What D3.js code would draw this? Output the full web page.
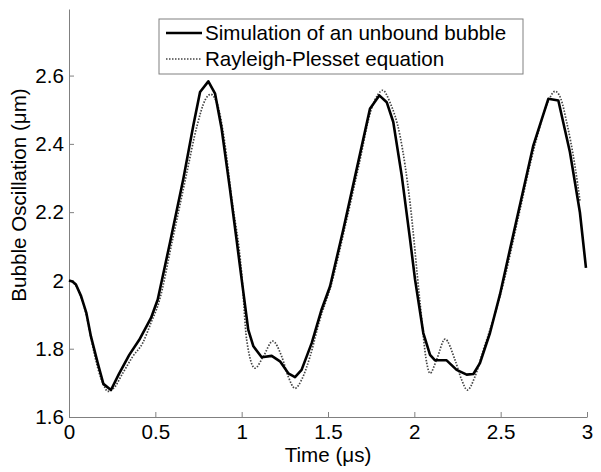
<!DOCTYPE html>
<html>
<head>
<meta charset="utf-8">
<script src="https://cdn.jsdelivr.net/npm/d3@7"></script>
<style>
  body { margin: 0; background: #fff; }
  svg text { font-family: Arial, "Liberation Sans", sans-serif; fill: #000; }
</style>
</head>
<body>
<svg></svg>
<script>
// data
const simTime = [0, 0.02, 0.04, 0.07, 0.10, 0.127, 0.166, 0.199, 0.243, 0.291, 0.349, 0.407, 0.475, 0.514,
  0.585, 0.662, 0.72, 0.759, 0.807, 0.846, 0.884, 0.932, 0.97, 1.0, 1.038, 1.068, 1.116, 1.174, 1.222,
  1.27, 1.309, 1.347, 1.406, 1.463, 1.512, 1.589, 1.666, 1.743, 1.797, 1.84, 1.878, 1.927, 1.975, 2.004,
  2.052, 2.091, 2.12, 2.187, 2.245, 2.303, 2.342, 2.38, 2.438, 2.496, 2.554, 2.593, 2.689, 2.776, 2.834,
  2.901, 2.959, 2.994];
const simRadius = [2.0, 1.997, 1.988, 1.954, 1.906, 1.836, 1.759, 1.697, 1.679, 1.728, 1.782, 1.826, 1.89, 1.944,
  2.111, 2.297, 2.454, 2.552, 2.583, 2.547, 2.444, 2.268, 2.121, 2.003, 1.856, 1.807, 1.775, 1.779, 1.763,
  1.728, 1.717, 1.738, 1.817, 1.915, 1.983, 2.15, 2.326, 2.503, 2.542, 2.522, 2.464, 2.307, 2.121, 2.003,
  1.846, 1.782, 1.766, 1.766, 1.738, 1.724, 1.726, 1.758, 1.846, 1.959, 2.091, 2.179, 2.395, 2.532, 2.527,
  2.376, 2.199, 2.037];

const rpTime = [0, 0.04, 0.07, 0.10, 0.13, 0.166, 0.205, 0.224, 0.26, 0.311, 0.369, 0.427, 0.475, 0.52,
  0.60, 0.68, 0.74, 0.79, 0.82, 0.86, 0.90, 0.94, 1.0, 1.029, 1.077, 1.125, 1.18, 1.232, 1.27, 1.309,
  1.347, 1.396, 1.45, 1.52, 1.60, 1.68, 1.75, 1.79, 1.817, 1.86, 1.917, 1.975, 2.033, 2.072, 2.091,
  2.129, 2.178, 2.235, 2.274, 2.307, 2.351, 2.40, 2.46, 2.52, 2.60, 2.70, 2.78, 2.815, 2.85, 2.882,
  2.93, 2.96];
const rpRadius = [2.0, 1.985, 1.95, 1.9, 1.825, 1.745, 1.689, 1.675, 1.685, 1.728, 1.777, 1.817, 1.876, 1.935,
  2.12, 2.31, 2.45, 2.53, 2.545, 2.515, 2.41, 2.25, 2.02, 1.826, 1.743, 1.777, 1.822, 1.777, 1.718, 1.684,
  1.709, 1.777, 1.88, 1.99, 2.16, 2.34, 2.5, 2.545, 2.557, 2.52, 2.424, 2.228, 1.935, 1.758, 1.728,
  1.768, 1.828, 1.768, 1.709, 1.679, 1.718, 1.797, 1.89, 2.0, 2.18, 2.4, 2.53, 2.554, 2.53, 2.464,
  2.336, 2.23];

const xTicks = [0, 0.5, 1, 1.5, 2, 2.5, 3];
const yTicks = [1.6, 1.8, 2, 2.2, 2.4, 2.6];
const legendLabels = ['Simulation of an unbound bubble', 'Rayleigh-Plesset equation'];

const size = {w: 601, h: 472};
const margin = {t: 9, r: 14, b: 55, l: 69};
const fontSize = '20.6px';
const svg = d3.select('svg').attr('width', size.w).attr('height', size.h);

const x = d3.scaleLinear().domain([0, 3]).range([margin.l, size.w - margin.r]);
const y = d3.scaleLinear().domain([1.6, 2.795]).range([size.h - margin.b, margin.t]);

const axisColor = '#808080';

// axes, ticks pointing inward
const xAxis = svg.append('g')
    .attr('transform', `translate(0,${size.h - margin.b})`)
    .call(d3.axisBottom(x).tickValues(xTicks).tickSizeInner(-5).tickSizeOuter(0).tickPadding(7)
      .tickFormat(d => String(d)));
const yAxis = svg.append('g')
    .attr('transform', `translate(${margin.l},0)`)
    .call(d3.axisLeft(y).tickValues(yTicks).tickSizeInner(-5).tickSizeOuter(0).tickPadding(5)
      .tickFormat(d => String(d)));

[xAxis, yAxis].forEach(g => {
  g.select('.domain').attr('stroke', axisColor);
  g.selectAll('.tick line').attr('stroke', axisColor);
  g.selectAll('.tick text').style('font-size', fontSize).attr('fill', '#000');
});

// axis titles
svg.append('text')
    .attr('x', x(1.5)).attr('y', 462)
    .attr('text-anchor', 'middle')
    .style('font-size', fontSize)
    .text('Time (\u03bcs)');
svg.append('text')
    .attr('transform', `translate(26,${(y(1.6) + y(2.795)) / 2 - 18}) rotate(-90)`)
    .attr('text-anchor', 'middle')
    .style('font-size', fontSize)
    .text('Bubble Oscillation (\u03bcm)');

// curves
const simData = simTime.map((t, i) => [t, simRadius[i]]);
const rpData = rpTime.map((t, i) => [t, rpRadius[i]]);

svg.append('path')
    .datum(rpData)
    .attr('fill', 'none')
    .attr('stroke', '#444')
    .attr('stroke-width', 1.7)
    .attr('stroke-dasharray', '1.5,1.5')
    .attr('d', d3.line().x(d => x(d[0])).y(d => y(d[1])).curve(d3.curveMonotoneX));

svg.append('path')
    .datum(simData)
    .attr('fill', 'none')
    .attr('stroke', '#000')
    .attr('stroke-width', 2.6)
    .attr('stroke-linejoin', 'round')
    .attr('d', d3.line().x(d => x(d[0])).y(d => y(d[1])));

// legend
const legend = svg.append('g').attr('transform', 'translate(159,19)');
legend.append('rect')
    .attr('width', 364).attr('height', 55)
    .attr('fill', '#fff').attr('stroke', axisColor).attr('stroke-width', 1);

const styles = [
  {stroke: '#000', width: 2.6, dash: null},
  {stroke: '#444', width: 1.7, dash: '1.5,1.5'}
];
legendLabels.forEach((label, i) => {
  const rowY = 14 + i * 26;
  legend.append('line')
      .attr('x1', 7).attr('x2', 43).attr('y1', rowY).attr('y2', rowY)
      .attr('stroke', styles[i].stroke)
      .attr('stroke-width', styles[i].width)
      .attr('stroke-dasharray', styles[i].dash);
  legend.append('text')
      .attr('x', 46).attr('y', rowY + 7)
      .style('font-size', fontSize)
      .text(label);
});
</script>
</body>
</html>
